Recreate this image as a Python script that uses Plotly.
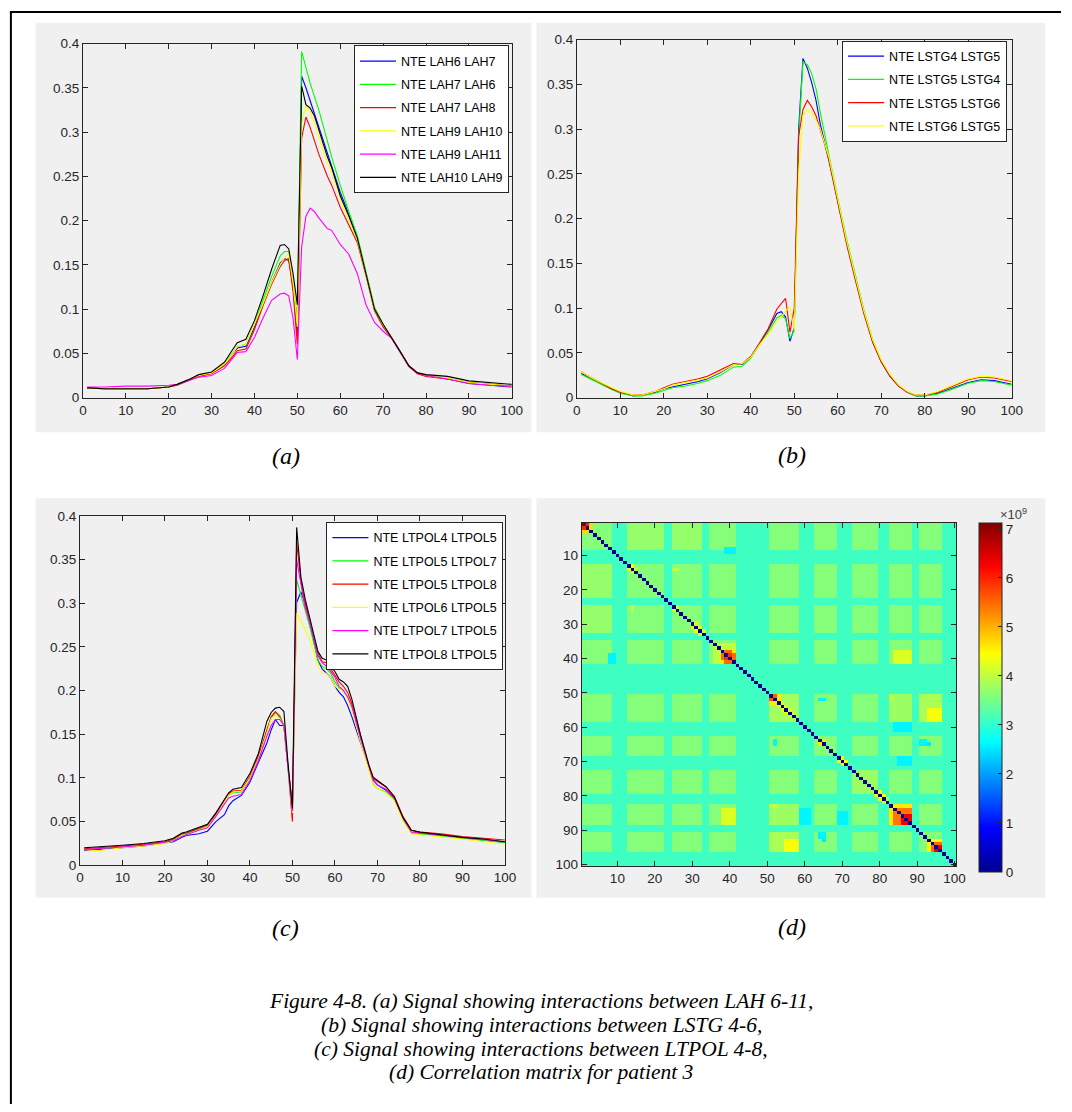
import plotly.graph_objects as go

W, H = 1072, 1112


def fx(p):
    return p / W


def fy(p):
    return 1 - p / H


# ---------------- panel (a): LAH interactions ----------------
x_a = [1, 5, 10, 15, 20, 22, 25, 27, 30, 33, 35, 36, 38, 40, 42, 44, 46, 47, 48, 49, 50,
       51, 52, 53, 54, 55, 57, 58, 60, 62, 64, 66, 68, 70, 72, 74, 76, 78, 80, 85, 90, 95, 100]
lah6_lah7 = [0.011, 0.010, 0.010, 0.010, 0.012, 0.015, 0.021, 0.025, 0.028, 0.038, 0.050, 0.056, 0.058, 0.080, 0.105,
             0.130, 0.152, 0.157, 0.155, 0.125, 0.070, 0.363, 0.350, 0.335, 0.322, 0.307, 0.275, 0.262, 0.232, 0.207,
             0.180, 0.140, 0.100, 0.082, 0.068, 0.052, 0.036, 0.028, 0.025, 0.021, 0.016, 0.014, 0.012]
lah7_lah6 = [0.011, 0.010, 0.010, 0.010, 0.012, 0.015, 0.021, 0.025, 0.028, 0.039, 0.051, 0.058, 0.060, 0.083, 0.110,
             0.137, 0.160, 0.165, 0.165, 0.130, 0.090, 0.391, 0.372, 0.355, 0.340, 0.325, 0.290, 0.272, 0.240, 0.210,
             0.183, 0.142, 0.102, 0.083, 0.068, 0.052, 0.036, 0.028, 0.025, 0.022, 0.017, 0.015, 0.013]
lah7_lah8 = [0.011, 0.010, 0.010, 0.010, 0.012, 0.014, 0.020, 0.024, 0.027, 0.036, 0.047, 0.053, 0.055, 0.077, 0.104,
             0.128, 0.148, 0.155, 0.157, 0.120, 0.060, 0.293, 0.317, 0.305, 0.290, 0.275, 0.250, 0.240, 0.215, 0.195,
             0.175, 0.138, 0.098, 0.080, 0.067, 0.051, 0.035, 0.027, 0.024, 0.021, 0.017, 0.015, 0.013]
lah9_lah10 = [0.011, 0.010, 0.010, 0.010, 0.012, 0.015, 0.021, 0.025, 0.028, 0.038, 0.050, 0.058, 0.060, 0.082, 0.106,
              0.130, 0.150, 0.158, 0.162, 0.130, 0.080, 0.310, 0.330, 0.322, 0.310, 0.295, 0.265, 0.255, 0.225, 0.200,
              0.178, 0.140, 0.100, 0.082, 0.068, 0.052, 0.036, 0.028, 0.025, 0.022, 0.017, 0.015, 0.013]
lah9_lah11 = [0.012, 0.012, 0.013, 0.013, 0.014, 0.015, 0.020, 0.023, 0.025, 0.033, 0.045, 0.051, 0.052, 0.068, 0.090,
              0.110, 0.117, 0.118, 0.115, 0.090, 0.043, 0.170, 0.205, 0.214, 0.210, 0.203, 0.191, 0.189, 0.173, 0.162,
              0.140, 0.105, 0.085, 0.075, 0.067, 0.052, 0.036, 0.028, 0.025, 0.021, 0.016, 0.014, 0.013]
lah10_lah9 = [0.011, 0.010, 0.010, 0.010, 0.012, 0.015, 0.021, 0.026, 0.029, 0.040, 0.055, 0.062, 0.066, 0.087, 0.115,
              0.145, 0.172, 0.173, 0.168, 0.140, 0.105, 0.352, 0.331, 0.327, 0.318, 0.303, 0.272, 0.260, 0.228, 0.205,
              0.180, 0.140, 0.100, 0.083, 0.068, 0.052, 0.036, 0.028, 0.026, 0.024, 0.019, 0.017, 0.015]
names_a = ["NTE LAH6 LAH7", "NTE LAH7 LAH6", "NTE LAH7 LAH8", "NTE LAH9 LAH10", "NTE LAH9 LAH11", "NTE LAH10 LAH9"]
series_a = [lah6_lah7, lah7_lah6, lah7_lah8, lah9_lah10, lah9_lah11, lah10_lah9]

# ---------------- panel (b): LSTG interactions ----------------
x_b = [1, 3, 5, 8, 10, 13, 15, 18, 20, 22, 25, 28, 30, 33, 35, 36, 38, 40, 42, 44, 46, 47, 48, 49, 50,
       51, 52, 53, 54, 55, 56, 57, 58, 60, 62, 64, 66, 68, 70, 72, 74, 76, 78, 80, 83, 86, 90, 93, 96, 100]
lstg4_lstg5 = [0.027, 0.022, 0.017, 0.010, 0.006, 0.002, 0.003, 0.006, 0.010, 0.012, 0.015, 0.018, 0.021, 0.028, 0.034,
               0.037, 0.037, 0.045, 0.060, 0.076, 0.094, 0.096, 0.090, 0.063, 0.078, 0.300, 0.379, 0.368, 0.352, 0.332,
               0.305, 0.285, 0.265, 0.220, 0.175, 0.135, 0.096, 0.063, 0.040, 0.024, 0.013, 0.006, 0.002, 0.002, 0.005,
               0.010, 0.017, 0.020, 0.019, 0.015]
lstg5_lstg4 = [0.026, 0.021, 0.016, 0.009, 0.005, 0.002, 0.002, 0.005, 0.008, 0.011, 0.013, 0.016, 0.019, 0.025, 0.031,
               0.034, 0.035, 0.044, 0.059, 0.073, 0.089, 0.092, 0.088, 0.066, 0.075, 0.290, 0.375, 0.372, 0.362, 0.345,
               0.318, 0.293, 0.270, 0.223, 0.178, 0.138, 0.098, 0.065, 0.041, 0.025, 0.014, 0.006, 0.002, 0.002, 0.004,
               0.009, 0.016, 0.019, 0.018, 0.014]
lstg5_lstg6 = [0.029, 0.023, 0.018, 0.010, 0.006, 0.003, 0.003, 0.007, 0.011, 0.015, 0.018, 0.021, 0.024, 0.031, 0.036,
               0.038, 0.038, 0.046, 0.061, 0.077, 0.099, 0.105, 0.111, 0.073, 0.100, 0.292, 0.322, 0.332, 0.325, 0.315,
               0.300, 0.283, 0.264, 0.218, 0.172, 0.132, 0.094, 0.062, 0.040, 0.024, 0.013, 0.006, 0.003, 0.003, 0.006,
               0.012, 0.020, 0.023, 0.022, 0.018]
lstg6_lstg5 = [0.029, 0.023, 0.018, 0.011, 0.007, 0.003, 0.003, 0.007, 0.010, 0.014, 0.017, 0.020, 0.022, 0.029, 0.034,
               0.037, 0.038, 0.045, 0.059, 0.071, 0.085, 0.090, 0.097, 0.101, 0.075, 0.250, 0.315, 0.322, 0.318, 0.310,
               0.300, 0.285, 0.268, 0.222, 0.176, 0.136, 0.097, 0.065, 0.042, 0.026, 0.014, 0.007, 0.003, 0.003, 0.007,
               0.013, 0.021, 0.024, 0.023, 0.019]
names_b = ["NTE LSTG4 LSTG5", "NTE LSTG5 LSTG4", "NTE LSTG5 LSTG6", "NTE LSTG6 LSTG5"]
series_b = [lstg4_lstg5, lstg5_lstg4, lstg5_lstg6, lstg6_lstg5]

# ---------------- panel (c): LTPOL interactions ----------------
x_c = [1, 5, 10, 15, 20, 22, 24, 25, 28, 30, 32, 34, 35, 36, 38, 40, 42, 44, 45, 46, 47, 48, 49, 50,
       51, 52, 53, 54, 55, 56, 57, 58, 59, 60, 61, 62, 63, 64, 66, 68, 69, 70, 72, 74, 76, 78, 80, 85, 90, 95, 100]
ltpol4_ltpol5 = [0.017, 0.018, 0.020, 0.022, 0.025, 0.027, 0.032, 0.034, 0.036, 0.039, 0.050, 0.058, 0.068, 0.074,
                 0.080, 0.095, 0.118, 0.140, 0.155, 0.167, 0.160, 0.160, 0.110, 0.070, 0.301, 0.313, 0.300, 0.280,
                 0.258, 0.235, 0.225, 0.220, 0.215, 0.205, 0.198, 0.193, 0.183, 0.170, 0.140, 0.112, 0.098, 0.092,
                 0.086, 0.076, 0.053, 0.037, 0.036, 0.034, 0.031, 0.029, 0.026]
ltpol5_ltpol7 = [0.018, 0.019, 0.021, 0.023, 0.026, 0.029, 0.035, 0.036, 0.041, 0.045, 0.057, 0.072, 0.080, 0.083,
                 0.084, 0.100, 0.123, 0.155, 0.168, 0.175, 0.172, 0.160, 0.110, 0.060, 0.327, 0.310, 0.295, 0.275,
                 0.255, 0.235, 0.228, 0.225, 0.220, 0.210, 0.203, 0.200, 0.192, 0.180, 0.145, 0.110, 0.093, 0.088,
                 0.084, 0.075, 0.052, 0.037, 0.036, 0.034, 0.031, 0.029, 0.026]
ltpol5_ltpol8 = [0.019, 0.020, 0.022, 0.024, 0.027, 0.030, 0.036, 0.037, 0.042, 0.046, 0.059, 0.074, 0.082, 0.085,
                 0.086, 0.102, 0.125, 0.155, 0.170, 0.176, 0.170, 0.160, 0.110, 0.050, 0.370, 0.325, 0.300, 0.280,
                 0.260, 0.243, 0.233, 0.232, 0.225, 0.218, 0.210, 0.205, 0.198, 0.185, 0.148, 0.113, 0.100, 0.096,
                 0.090, 0.079, 0.056, 0.040, 0.038, 0.036, 0.033, 0.031, 0.029]
ltpol6_ltpol5 = [0.016, 0.017, 0.020, 0.022, 0.025, 0.028, 0.034, 0.035, 0.040, 0.044, 0.056, 0.072, 0.080, 0.084,
                 0.085, 0.100, 0.122, 0.152, 0.168, 0.172, 0.168, 0.160, 0.110, 0.060, 0.289, 0.280, 0.270, 0.260,
                 0.245, 0.228, 0.220, 0.220, 0.215, 0.205, 0.202, 0.200, 0.190, 0.178, 0.142, 0.108, 0.092, 0.088,
                 0.083, 0.074, 0.051, 0.036, 0.035, 0.033, 0.030, 0.027, 0.024]
ltpol7_ltpol5 = [0.018, 0.019, 0.021, 0.023, 0.026, 0.028, 0.033, 0.035, 0.040, 0.043, 0.056, 0.070, 0.077, 0.079,
                 0.081, 0.097, 0.120, 0.148, 0.160, 0.167, 0.167, 0.160, 0.110, 0.062, 0.350, 0.320, 0.295, 0.280,
                 0.260, 0.240, 0.232, 0.228, 0.222, 0.215, 0.205, 0.200, 0.193, 0.182, 0.146, 0.112, 0.097, 0.092,
                 0.087, 0.077, 0.054, 0.038, 0.037, 0.035, 0.032, 0.030, 0.027]
ltpol8_ltpol5 = [0.020, 0.021, 0.023, 0.025, 0.028, 0.031, 0.037, 0.038, 0.043, 0.047, 0.060, 0.075, 0.083, 0.087,
                 0.089, 0.105, 0.128, 0.165, 0.175, 0.180, 0.181, 0.176, 0.115, 0.065, 0.387, 0.330, 0.305, 0.285,
                 0.265, 0.245, 0.237, 0.235, 0.228, 0.222, 0.213, 0.210, 0.205, 0.190, 0.150, 0.115, 0.101, 0.097,
                 0.090, 0.078, 0.055, 0.040, 0.038, 0.035, 0.032, 0.030, 0.027]
names_c = ["NTE LTPOL4 LTPOL5", "NTE LTPOL5 LTPOL7", "NTE LTPOL5 LTPOL8",
           "NTE LTPOL6 LTPOL5", "NTE LTPOL7 LTPOL5", "NTE LTPOL8 LTPOL5"]
series_c = [ltpol4_ltpol5, ltpol5_ltpol7, ltpol5_ltpol8, ltpol6_ltpol5, ltpol7_ltpol5, ltpol8_ltpol5]

# MATLAB-style line colours: b, g, r, y, m, k
line_colors = ["#0000ff", "#00ff00", "#ff0000", "#ffff00", "#ff00ff", "#000000"]

x_ticks = [0, 10, 20, 30, 40, 50, 60, 70, 80, 90, 100]
y_ticks = [0, 0.05, 0.1, 0.15, 0.2, 0.25, 0.3, 0.35, 0.4]
y_ticktext = ["0", "0.05", "0.1", "0.15", "0.2", "0.25", "0.3", "0.35", "0.4"]

# ---------------- panel (d): correlation matrix, patient 3 ----------------
n_channels = 100
base_level = 3.1e9           # between-shaft background
green_level = 3.6e9          # within active shaft groups
diag_level = 0.0
corner_level = 7.1e9         # entry (1, 1)
active_groups = [(1, 8), (13, 22), (25, 32), (35, 41), (51, 58), (63, 68), (73, 79), (83, 88), (91, 96)]
# symmetric patches: (row_from, row_to, col_from, col_to, value)
patches = [
    (1, 3, 1, 3, 4.7e9), (1, 2, 1, 2, 6.0e9),
    (51, 58, 51, 58, 3.8e9), (73, 79, 73, 79, 3.75e9), (1, 8, 13, 22, 3.7e9), (25, 32, 1, 8, 3.7e9),
    (51, 58, 83, 88, 3.75e9), (51, 52, 83, 83, 4.0e9), (14, 14, 25, 26, 4.0e9),
    (36, 41, 36, 41, 4.0e9), (38, 41, 38, 41, 5.5e9), (38, 38, 41, 41, 4.6e9), (39, 40, 39, 40, 5.9e9),
    (51, 53, 51, 53, 4.6e9), (51, 52, 51, 52, 5.6e9),
    (51, 58, 91, 96, 3.85e9), (55, 58, 93, 96, 4.4e9),
    (84, 88, 38, 41, 4.2e9),
    (83, 88, 83, 88, 4.6e9), (84, 88, 85, 88, 5.4e9), (86, 88, 86, 88, 6.3e9),
    (93, 96, 93, 96, 4.5e9), (94, 96, 94, 96, 5.5e9), (95, 96, 95, 96, 6.4e9),
    (39, 41, 8, 9, 2.6e9), (59, 61, 84, 88, 2.6e9), (69, 71, 85, 88, 2.6e9),
    (91, 93, 65, 65, 2.5e9), (52, 52, 65, 65, 2.6e9), (64, 65, 52, 52, 2.6e9), (64, 65, 91, 92, 2.6e9),
]
# neighbours of the diagonal: (channel, value) for cells (ch, ch+1) and (ch+1, ch)
near_diag = [(13, 4.3e9), (14, 4.0e9), (25, 4.2e9), (30, 4.2e9), (31, 4.3e9), (32, 4.1e9), (53, 4.2e9),
             (54, 4.3e9), (55, 4.2e9), (56, 4.0e9), (64, 4.6e9), (69, 4.3e9), (70, 4.4e9), (79, 4.3e9),
             (80, 4.4e9), (81, 4.0e9)]

corr = [[base_level] * n_channels for _ in range(n_channels)]
for (a0, a1) in active_groups:
    for (b0, b1) in active_groups:
        for i in range(a0 - 1, a1):
            for j in range(b0 - 1, b1):
                corr[i][j] = green_level
for (r0, r1, c0, c1, v) in patches:
    for i in range(r0 - 1, r1):
        for j in range(c0 - 1, c1):
            corr[i][j] = v
            corr[j][i] = v
for (ch, v) in near_diag:
    corr[ch - 1][ch] = v
    corr[ch][ch - 1] = v
for i in range(n_channels):
    corr[i][i] = diag_level
corr[0][0] = corner_level
channels = list(range(1, n_channels + 1))

jet = [[0.0, "rgb(0,0,143)"], [0.125, "rgb(0,0,255)"], [0.375, "rgb(0,255,255)"],
       [0.625, "rgb(255,255,0)"], [0.875, "rgb(255,0,0)"], [1.0, "rgb(128,0,0)"]]

AX = "#262626"
SANS = "Liberation Sans, Arial, sans-serif"
TICKFONT = dict(family=SANS, size=13.5, color="#262626")
LEGFONT = dict(family=SANS, size=12.5, color="#000000")

fig = go.Figure()

line_panels = [
    ("x", "y", "legend", x_a, series_a, names_a),
    ("x2", "y2", "legend2", x_b, series_b, names_b),
    ("x3", "y3", "legend3", x_c, series_c, names_c),
]
for xa, ya, leg, xs, series, names in line_panels:
    for k, (vals, nm) in enumerate(zip(series, names)):
        fig.add_trace(go.Scatter(
            x=xs, y=vals, name=nm, mode="lines", xaxis=xa, yaxis=ya, legend=leg,
            legendgroup=f"{leg}_{k}", line=dict(color=line_colors[k], width=1.1),
        ))

fig.add_trace(go.Heatmap(
    z=corr, x=channels, y=channels, xaxis="x4", yaxis="y4", colorscale=jet, zmin=0, zmax=7.12e9,
    showscale=True,
    colorbar=dict(
        x=fx(989), xanchor="left", y=fy(523), yanchor="top", len=349, lenmode="pixels",
        thickness=23, thicknessmode="pixels", outlinecolor=AX, outlinewidth=1, xpad=0, ypad=0,
        tickvals=[i * 1e9 for i in range(8)], ticktext=[str(i) for i in range(8)],
        ticks="inside", ticklen=4, tickcolor=AX, tickfont=TICKFONT,
    ),
))


def line_axes(xdom, ydom, xa_id, ya_id):
    common = dict(showline=True, linecolor=AX, linewidth=1, mirror="ticks", ticks="inside", ticklen=5,
                  tickcolor=AX, showgrid=False, zeroline=False, tickfont=TICKFONT)
    xax = dict(domain=[fx(xdom[0]), fx(xdom[1])], range=[0, 100], tickvals=x_ticks, anchor=ya_id, **common)
    yax = dict(domain=[fy(ydom[1]), fy(ydom[0])], range=[0, 0.4], tickvals=y_ticks, ticktext=y_ticktext,
               anchor=xa_id, **common)
    return xax, yax


xa1, ya1 = line_axes((80, 515), (37, 396), "x", "y")
xa2, ya2 = line_axes((581, 1022), (33, 396), "x2", "y2")
xa3, ya3 = line_axes((77, 508), (516, 870), "x3", "y3")

hm_common = dict(showline=True, linecolor=AX, linewidth=1, mirror="ticks", ticks="inside", ticklen=5,
                 tickcolor=AX, showgrid=False, zeroline=False, tickfont=TICKFONT)
xa4 = dict(domain=[fx(586), fx(966)], range=[0.5, 100.5], anchor="y4",
           tickvals=[10, 20, 30, 40, 50, 60, 70, 80, 90, 100], **hm_common)
ya4 = dict(domain=[fy(871), fy(523)], range=[100.5, 0.5], anchor="x4",
           tickvals=[10, 20, 30, 40, 50, 60, 70, 80, 90, 100], **hm_common)


def legend_box(x, y):
    return dict(x=fx(x), y=fy(y), xanchor="left", yanchor="top", bgcolor="white", bordercolor=AX,
                borderwidth=1, font=LEGFONT, tracegroupgap=4, itemwidth=36)


shapes = []
# grey figure backgrounds behind each panel
for (x0, y0, x1, y1) in [(32, 16, 535, 431), (540, 16, 1056, 431), (32, 498, 535, 903), (540, 498, 1056, 903)]:
    shapes.append(dict(type="rect", xref="paper", yref="paper", x0=fx(x0), x1=fx(x1), y0=fy(y1), y1=fy(y0),
                       fillcolor="#f0f0f0", line=dict(width=0), layer="below"))
# page frame (top and left edges)
shapes.append(dict(type="line", xref="paper", yref="paper", x0=fx(6), x1=1, y0=fy(5), y1=fy(5),
                   line=dict(color="#000000", width=2)))
shapes.append(dict(type="line", xref="paper", yref="paper", x0=fx(7), x1=fx(7), y0=0, y1=fy(5),
                   line=dict(color="#000000", width=2)))

SERIF = "Liberation Serif, Times New Roman, serif"
annotations = []
for txt, x, y in [("(a)", 286, 455), ("(b)", 799, 454), ("(c)", 286, 934), ("(d)", 799, 933)]:
    annotations.append(dict(text=f"<i>{txt}</i>", x=fx(x), y=fy(y), xref="paper", yref="paper",
                            xanchor="center", yanchor="middle", showarrow=False,
                            font=dict(family=SERIF, size=24, color="#000000")))
caption = [
    "Figure 4-8. (a) Signal showing interactions between LAH 6-11,",
    "(b) Signal showing interactions between LSTG 4-6,",
    "(c) Signal showing interactions between LTPOL 4-8,",
    "(d) Correlation matrix for patient 3",
]
for k, line in enumerate(caption):
    annotations.append(dict(text=f"<i>{line}</i>", x=fx(545), y=fy(1008 + 24 * k), xref="paper", yref="paper",
                            xanchor="center", yanchor="middle", showarrow=False,
                            font=dict(family=SERIF, size=21.5, color="#000000")))
annotations.append(dict(text="×10<sup>9</sup>", x=fx(1008), y=fy(514), xref="paper", yref="paper",
                        xanchor="left", yanchor="middle", showarrow=False,
                        font=dict(family=SANS, size=13, color="#404040")))

fig.update_layout(
    width=W, height=H, margin=dict(l=0, r=0, t=0, b=0), paper_bgcolor="white", plot_bgcolor="white",
    xaxis=xa1, yaxis=ya1, xaxis2=xa2, yaxis2=ya2, xaxis3=xa3, yaxis3=ya3, xaxis4=xa4, yaxis4=ya4,
    legend=legend_box(355, 39), legend2=legend_box(850, 34), legend3=legend_box(327, 522),
    shapes=shapes, annotations=annotations, showlegend=True,
)

fig.write_html("out.html")
